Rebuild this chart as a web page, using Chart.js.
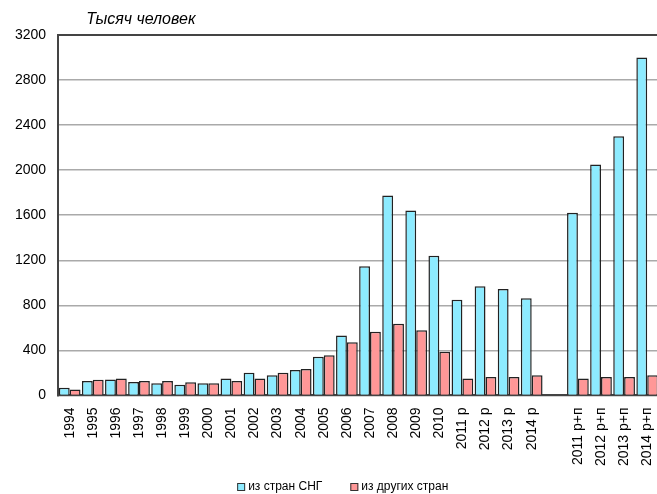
<!DOCTYPE html>
<html>
<head>
<meta charset="utf-8">
<script src="https://cdn.jsdelivr.net/npm/chart.js@4/dist/chart.umd.min.js"></script>
<style>
  html, body { margin: 0; padding: 0; background: #fff; overflow: hidden; }
  #wrap { width: 668px; height: 494px; position: relative; }
</style>
</head>
<body>
<div id="wrap"><canvas id="chart"></canvas></div>
<script>
// подписи по оси X (пустая категория = разрыв между группами)
const labels = ['1994','1995','1996','1997','1998','1999','2000','2001','2002','2003','2004','2005','2006',
  '2007','2008','2009','2010','2011 р','2012 р','2013 р','2014 р','',
  '2011 р+п','2012 р+п','2013 р+п','2014 р+п']

// тысяч человек
const izSNG = [68,127,142,119,107,95,107,151,201,178,225,344,533,
  1147,1775,1641,1241,850,969,945,862,null,
  1621,2050,2300,3000]
const izDrugih = [53,139,151,127,127,116,107,127,151,201,234,356,471,
  566,637,578,388,151,163,163,178,null,
  151,163,163,178]

const yTicks = [0,400,800,1200,1600,2000,2400,2800,3200]

const fontFam = 'Arial, "Liberation Sans", sans-serif'

// подпись "Тысяч человек" над осью
const unitTitle = {
  id: 'unitTitle',
  afterDraw(chart) {
    const ctx = chart.ctx
    ctx.save()
    ctx.font = 'italic 16px ' + fontFam
    ctx.fillStyle = '#000'
    ctx.textBaseline = 'middle'
    ctx.fillText('Тысяч человек', chart.chartArea.left + 28, 20)
    ctx.restore()
  }
}

// легенда внизу (рисуем сами, чтобы промежутки были как в оригинале)
const bottomLegend = {
  id: 'bottomLegend',
  afterDraw(chart) {
    const ctx = chart.ctx
    ctx.save()
    ctx.font = '12px ' + fontFam
    ctx.textBaseline = 'middle'
    let x = chart.chartArea.left + 179
    const y = chart.height - 7
    chart.data.datasets.forEach(function (ds) {
      ctx.fillStyle = ds.backgroundColor
      ctx.fillRect(x, y - 4, 8, 8)
      ctx.strokeStyle = '#333'
      ctx.lineWidth = 1
      ctx.strokeRect(x + 0.5, y - 3.5, 7, 7)
      ctx.fillStyle = '#000'
      ctx.fillText(ds.label, x + 11, y)
      x += 11 + ctx.measureText(ds.label).width + 28
    })
    ctx.restore()
  }
}

new Chart(document.getElementById('chart'), {
  type: 'bar',
  data: {
    labels: labels,
    datasets: [
      {
        label: 'из стран СНГ',
        data: izSNG,
        backgroundColor: '#8DEBFF',
        borderColor: '#222',
        borderWidth: 1.5
      },
      {
        label: 'из других стран',
        data: izDrugih,
        backgroundColor: '#FF9797',
        borderColor: '#222',
        borderWidth: 1.5
      }
    ]
  },
  options: {
    responsive: true,
    maintainAspectRatio: false,
    animation: false,
    layout: { padding: { top: 35, right: 0, left: 3, bottom: 24 } },
    datasets: { bar: { categoryPercentage: 0.94, barPercentage: 1.0 } },
    plugins: {
      legend: { display: false },
      title: { display: false },
      tooltip: { enabled: false }
    },
    scales: {
      x: {
        grid: { display: false },
        border: { color: '#444', width: 2 },
        ticks: {
          minRotation: 90,
          maxRotation: 90,
          autoSkip: false,
          color: '#000',
          padding: 4,
          font: { family: fontFam, size: 14 }
        }
      },
      y: {
        min: 0,
        max: 3200,
        afterBuildTicks(axis) { axis.ticks = yTicks.map(v => ({ value: v })) },
        grid: {
          color: ctx => ctx.tick && ctx.tick.value === 3200 ? '#444' : '#aaa',
          lineWidth: ctx => ctx.tick && ctx.tick.value === 3200 ? 2 : 1.5,
          drawTicks: false
        },
        border: { color: '#444', width: 2 },
        ticks: {
          color: '#000',
          padding: 12,
          callback: v => String(v),
          font: { family: fontFam, size: 14 }
        }
      }
    }
  },
  plugins: [unitTitle, bottomLegend]
})
</script>
</body>
</html>
